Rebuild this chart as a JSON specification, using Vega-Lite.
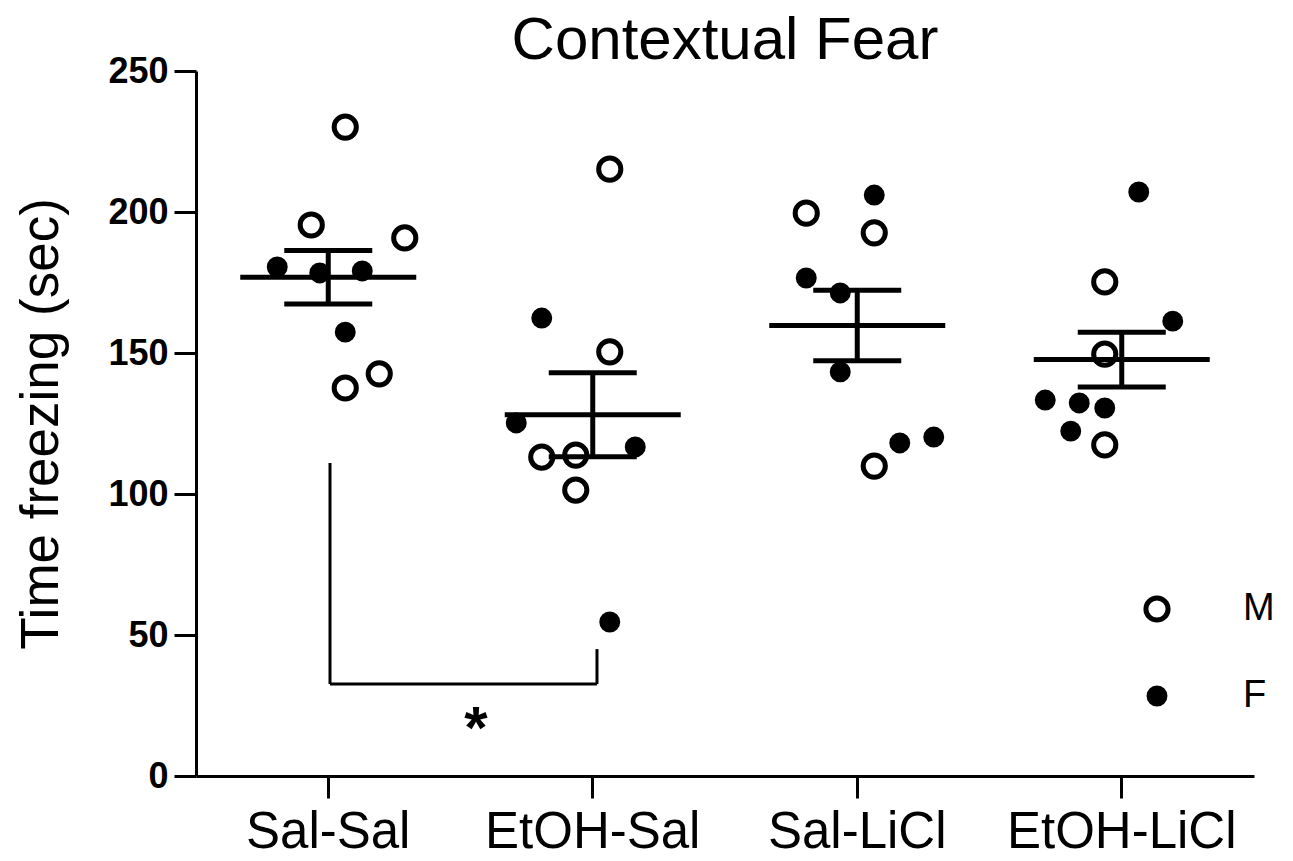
{
  "$schema": "https://vega.github.io/schema/vega-lite/v6.json",
  "width": 1058,
  "height": 705,
  "autosize": {"type": "none"},
  "padding": {"left": 196, "top": 71, "right": 39, "bottom": 85},
  "config": {
    "font": "Liberation Sans",
    "view": {"stroke": null},
    "legend": {
      "orient": "none",
      "legendX": 942,
      "legendY": 519,
      "padding": 0,
      "rowPadding": 46,
      "labelFontSize": 38,
      "labelFont": "Liberation Sans",
      "labelColor": "black",
      "labelOffset": 67,
      "symbolStrokeColor": "black",
      "symbolStrokeWidth": 5,
      "symbolType": "circle",
      "symbolOpacity": 1,
      "title": null
    }
  },
  "title": {
    "text": "Contextual Fear",
    "fontSize": 60,
    "fontWeight": "normal",
    "font": "Liberation Sans",
    "color": "black",
    "anchor": "middle",
    "baseline": "alphabetic",
    "offset": 0,
    "dy": 66
  },
  "datasets": {
    "mice": [
      {"group": "Sal-Sal", "sex": "M", "value": 230.1, "slot": 2},
      {"group": "Sal-Sal", "sex": "M", "value": 195.4, "slot": -2},
      {"group": "Sal-Sal", "sex": "M", "value": 190.8, "slot": 9},
      {"group": "Sal-Sal", "sex": "F", "value": 180.5, "slot": -6},
      {"group": "Sal-Sal", "sex": "F", "value": 178.4, "slot": -1},
      {"group": "Sal-Sal", "sex": "F", "value": 179.1, "slot": 4},
      {"group": "Sal-Sal", "sex": "F", "value": 157.4, "slot": 2},
      {"group": "Sal-Sal", "sex": "M", "value": 137.6, "slot": 2},
      {"group": "Sal-Sal", "sex": "M", "value": 142.6, "slot": 6},
      {"group": "EtOH-Sal", "sex": "M", "value": 215.2, "slot": 2},
      {"group": "EtOH-Sal", "sex": "F", "value": 162.4, "slot": -6},
      {"group": "EtOH-Sal", "sex": "M", "value": 150.4, "slot": 2},
      {"group": "EtOH-Sal", "sex": "F", "value": 125.2, "slot": -9},
      {"group": "EtOH-Sal", "sex": "M", "value": 113.1, "slot": -6},
      {"group": "EtOH-Sal", "sex": "M", "value": 113.8, "slot": -2},
      {"group": "EtOH-Sal", "sex": "F", "value": 116.7, "slot": 5},
      {"group": "EtOH-Sal", "sex": "M", "value": 101.4, "slot": -2},
      {"group": "EtOH-Sal", "sex": "F", "value": 54.6, "slot": 2},
      {"group": "Sal-LiCl", "sex": "F", "value": 206.0, "slot": 2},
      {"group": "Sal-LiCl", "sex": "M", "value": 199.6, "slot": -6},
      {"group": "Sal-LiCl", "sex": "M", "value": 192.6, "slot": 2},
      {"group": "Sal-LiCl", "sex": "F", "value": 176.6, "slot": -6},
      {"group": "Sal-LiCl", "sex": "F", "value": 171.3, "slot": -2},
      {"group": "Sal-LiCl", "sex": "F", "value": 143.3, "slot": -2},
      {"group": "Sal-LiCl", "sex": "F", "value": 120.2, "slot": 9},
      {"group": "Sal-LiCl", "sex": "F", "value": 118.1, "slot": 5},
      {"group": "Sal-LiCl", "sex": "M", "value": 109.9, "slot": 2},
      {"group": "EtOH-LiCl", "sex": "F", "value": 207.1, "slot": 2},
      {"group": "EtOH-LiCl", "sex": "M", "value": 175.2, "slot": -2},
      {"group": "EtOH-LiCl", "sex": "F", "value": 161.3, "slot": 6},
      {"group": "EtOH-LiCl", "sex": "M", "value": 149.6, "slot": -2},
      {"group": "EtOH-LiCl", "sex": "F", "value": 133.3, "slot": -9},
      {"group": "EtOH-LiCl", "sex": "F", "value": 132.3, "slot": -5},
      {"group": "EtOH-LiCl", "sex": "F", "value": 130.5, "slot": -2},
      {"group": "EtOH-LiCl", "sex": "F", "value": 122.3, "slot": -6},
      {"group": "EtOH-LiCl", "sex": "M", "value": 117.4, "slot": -2}
    ],
    "bracket": [
      {"xa": 0.5066, "xb": 0.5066, "ya": 111.0, "yb": 32.6},
      {"xa": 0.5066, "xb": 1.516, "ya": 32.6, "yb": 32.6},
      {"xa": 1.516, "xb": 1.516, "ya": 45.0, "yb": 32.6}
    ],
    "star": [
      {"xs": 1.0586, "ys": 10, "label": "*"}
    ]
  },
  "layer": [
    {
      "data": {"name": "mice"},
      "encoding": {
        "x": {
          "field": "group",
          "type": "nominal",
          "sort": ["Sal-Sal", "EtOH-Sal", "Sal-LiCl", "EtOH-LiCl"],
          "scale": {"paddingInner": 0, "paddingOuter": 0},
          "axis": {
            "title": null,
            "labelAngle": 0,
            "labelFontSize": 51,
            "labelFont": "Liberation Sans",
            "labelColor": "black",
            "labelLimit": 0,
            "labelPadding": 9,
            "tickSize": 22,
            "tickWidth": 3,
            "tickColor": "black",
            "domainWidth": 3,
            "domainColor": "black",
            "grid": false
          }
        },
        "y": {
          "field": "value",
          "type": "quantitative",
          "scale": {"domain": [0, 250], "nice": false},
          "axis": {
            "title": "Time freezing (sec)",
            "titleFontSize": 53,
            "titleFont": "Liberation Sans",
            "titleFontWeight": "normal",
            "titleColor": "black",
            "titleBaseline": "alphabetic",
            "titleX": -139,
            "values": [0, 50, 100, 150, 200, 250],
            "labelFontSize": 36,
            "labelFontWeight": "bold",
            "labelFont": "Liberation Sans",
            "labelColor": "black",
            "labelPadding": 6,
            "tickSize": 22,
            "tickWidth": 3,
            "tickColor": "black",
            "domainWidth": 3,
            "domainColor": "black",
            "grid": false
          }
        }
      },
      "layer": [
        {
          "mark": {"type": "point", "shape": "circle", "stroke": "black", "strokeWidth": 5, "opacity": 1, "fillOpacity": 1, "strokeOpacity": 1},
          "encoding": {
            "xOffset": {
              "field": "slot",
              "type": "ordinal",
              "scale": {"type": "point", "domain": [-9, -8, -7, -6, -5, -4, -3, -2, -1, 0, 1, 2, 3, 4, 5, 6, 7, 8, 9], "padding": 0, "range": [55.75, 208.75]}
            },
            "fill": {
              "field": "sex",
              "type": "nominal",
              "scale": {"domain": ["M", "F"], "range": ["white", "black"]},
              "legend": {
                "symbolStrokeColor": "black",
                "symbolStrokeWidth": 5,
                "symbolOpacity": 1,
                "encode": {
                  "symbols": {
                    "update": {
                      "stroke": {"value": "black"},
                      "strokeWidth": {"value": 5},
                      "opacity": {"value": 1}
                    }
                  }
                }
              }
            },
            "size": {
              "field": "sex",
              "type": "nominal",
              "scale": {"domain": ["M", "F"], "range": [491, 254]}
            }
          }
        },
        {
          "mark": {
            "type": "errorbar",
            "extent": "stderr",
            "ticks": {"size": 88, "thickness": 5, "color": "black", "opacity": 1},
            "rule": {"strokeWidth": 5, "color": "black", "opacity": 1}
          }
        },
        {
          "mark": {"type": "tick", "size": 176, "thickness": 5, "color": "black", "opacity": 1},
          "encoding": {
            "y": {"aggregate": "mean", "field": "value", "type": "quantitative"}
          }
        }
      ]
    },
    {
      "layer": [
        {
          "data": {"name": "bracket"},
          "mark": {"type": "rule", "strokeWidth": 3, "color": "black"},
          "encoding": {
            "x": {"field": "xa", "type": "quantitative", "scale": {"domain": [0, 4], "nice": false, "zero": false}, "axis": null},
            "x2": {"field": "xb"},
            "y": {"field": "ya", "type": "quantitative"},
            "y2": {"field": "yb"}
          }
        },
        {
          "data": {"name": "star"},
          "mark": {"type": "text", "fontSize": 60, "fontWeight": "bold", "font": "Liberation Sans", "color": "black", "baseline": "alphabetic", "align": "center"},
          "encoding": {
            "x": {"field": "xs", "type": "quantitative", "scale": {"domain": [0, 4], "nice": false, "zero": false}, "axis": null},
            "y": {"field": "ys", "type": "quantitative"},
            "text": {"field": "label"}
          }
        }
      ]
    }
  ],
  "resolve": {"scale": {"x": "independent"}}
}
